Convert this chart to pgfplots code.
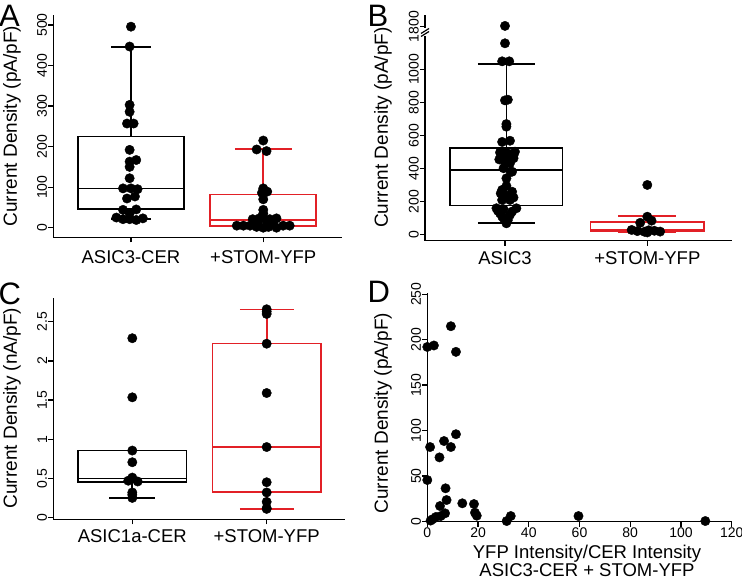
\documentclass[border=0pt]{standalone}
\usepackage{pgfplots}
\pgfplotsset{compat=1.18}
\usepgfplotslibrary{statistics}
\usepackage{fontspec}
\setmainfont{Liberation Sans}
\definecolor{boxred}{RGB}{226,32,38}
\pgfplotsset{
  panel/.style={
    scale only axis, anchor=south west, clip=false,
    axis x line*=bottom, axis y line*=left,
    axis line style={line width=1.5pt, black},
    tick align=outside, major tick length=5pt,
    every tick/.style={black, line width=1.3pt},
    tick label style={font=\fontsize{14}{15}\selectfont},
    yticklabel style={rotate=90, anchor=south, inner sep=1pt},
    xticklabel style={anchor=north, inner sep=0pt},
    /pgf/number format/assume math mode=true,
    boxplot/draw direction=y,
  },
  cat/.style={xticklabel style={font=\fontsize{18.5}{19}\selectfont, yshift=#1}},
  dots/.style={only marks, mark=*, mark size=4.7pt, black, mark options={fill=black, draw=black}},
  blk/.style={black, line width=1.7pt},
  rd/.style={boxred, line width=1.7pt},
}
\begin{document}
\begin{tikzpicture}[x=1pt,y=1pt]
\useasboundingbox (0,0) rectangle (742,579);

% ---------------- Panel A ----------------
\begin{axis}[panel, cat=-8pt, at={(53.3pt,341.7pt)}, width=288.4pt, height=222.3pt,
  xmin=-0.587, xmax=1.593, ymin=-23.7, ymax=524.8,
  xtick={0,1}, xticklabels={ASIC3-CER,+STOM-YFP}, ytick={0,100,200,300,400,500}]
\addplot[blk, boxplot prepared={draw position=0, lower whisker=21, lower quartile=46, median=97, upper quartile=225, upper whisker=446, box extend=0.80, whisker extend=0.30}] coordinates {};
\addplot[rd, boxplot prepared={draw position=1, lower whisker=4, lower quartile=5, median=19, upper quartile=82, upper whisker=194, box extend=0.80, whisker extend=0.43}] coordinates {};
\addplot[dots] coordinates {
(0,496) (-0.01,447) (-0.01,303) (-0.01,286) (-0.03,257) (0.02,257) (-0.01,192)
(-0.01,163) (0.04,167) (-0.01,150) (-0.01,122) (-0.06,97) (0.0,97) (0.05,95)
(-0.03,72) (0.03,77) (-0.06,44) (0.04,45) (-0.01,35) (-0.11,25) (-0.01,21)
(0.09,23) (-0.06,21) (0.04,19)};
\addplot[dots] coordinates {
(1.0,215) (0.95,193) (1.025,189) (1.0,97) (1.03,89) (0.99,86) (1.0,70) (1.0,44)
(1.0,35) (0.92,21) (0.97,23) (1.05,21) (1.10,23) (0.96,15) (1.025,17) (1.075,12)
(0.80,5) (0.85,5) (0.90,5) (0.95,2) (1.0,0) (1.04,2) (1.10,0) (1.15,5) (1.20,5)};
\end{axis}

% ---------------- Panel B ----------------
% the top point (about 1850 pA/pF) lies above the axis break; it is plotted at 1262 on the lower scale, where the 1800 tick sits at 1258
\begin{axis}[panel, cat=-6pt, at={(425pt,338.3pt)}, width=306.7pt, height=225.7pt,
  xmin=-0.562, xmax=1.593, ymin=-36, ymax=1328,
  xtick={0,1}, xticklabels={ASIC3,+STOM-YFP},
  ytick={0,200,400,600,800,1000,1258}, yticklabels={0,200,400,600,800,1000,1800}]
\addplot[blk, boxplot prepared={draw position=0.01, lower whisker=73, lower quartile=176, median=392, upper quartile=523, upper whisker=1030, box extend=0.79, whisker extend=0.40}] coordinates {};
\addplot[rd, boxplot prepared={draw position=1, lower whisker=13, lower quartile=23, median=31, upper quartile=75, upper whisker=113, box extend=0.80, whisker extend=0.41}] coordinates {};
\addplot[dots] coordinates {
(0,1262) (0,1157) (-0.02,1048) (0.03,1048) (0,812) (0.02,816) (0.01,669) (0.01,653)
(-0.02,561) (0.035,568) (-0.01,502) (0.07,502) (-0.035,497) (0.02,492) (0.06,480)
(0.01,472) (0.06,462) (-0.04,455) (0,442) (0.035,432) (-0.01,402) (0.05,381)
(0.04,380) (0.01,341) (0.01,295) (-0.02,271) (0.05,260) (-0.03,250) (0,240)
(0.06,225) (-0.02,210) (0.035,210) (-0.06,160) (-0.01,154) (0.08,160) (-0.05,145)
(0.05,140) (-0.035,130) (0.035,120) (-0.02,110) (-0.01,100) (0.02,89) (0.01,69)};
\addplot[dots] coordinates {
(1.0,301) (1.0,109) (1.03,85) (0.95,72) (0.89,29) (0.93,22) (0.98,18) (1.01,27)
(1.05,24) (1.09,19) (1.0,14)};
\end{axis}
% axis break on panel B
\fill[white] (419,542.5) rectangle (431,550.5);
\draw[line width=1.2pt] (421,542.5) -- (429,547.5);
\draw[line width=1.2pt] (421,545.5) -- (429,550.5);

% ---------------- Panel C ----------------
\begin{axis}[panel, cat=-5pt, at={(53.3pt,59.7pt)}, width=291.7pt, height=221pt,
  xmin=-0.588, xmax=1.583, ymin=-0.023, ymax=2.80,
  xtick={0,1}, xticklabels={ASIC1a-CER,+STOM-YFP},
  ytick={0,0.5,1,1.5,2,2.5}, yticklabels={0,0.5,1,1.5,2,2.5}]
\addplot[blk, boxplot prepared={draw position=0, lower whisker=0.247, lower quartile=0.45, median=0.50, upper quartile=0.855, upper whisker=0.855, box extend=0.806, whisker extend=0.34}] coordinates {};
\addplot[rd, boxplot prepared={draw position=1, lower whisker=0.106, lower quartile=0.323, median=0.90, upper quartile=2.224, upper whisker=2.657, box extend=0.806, whisker extend=0.40}] coordinates {};
\addplot[dots] coordinates {
(0,2.29) (0,1.535) (0,0.855) (0,0.706) (0,0.51) (-0.03,0.47) (0.04,0.46)
(0,0.32) (0,0.29) (0,0.25)};
\addplot[dots] coordinates {
(1,2.66) (1,2.63) (1,2.60) (1,2.22) (1,1.59) (1,0.90) (1,0.45) (1,0.32)
(1,0.20) (1,0.11) (1,0.12)};
\end{axis}

% ---------------- Panel D ----------------
\begin{axis}[panel, at={(427.3pt,57.5pt)}, width=304.4pt, height=228.2pt,
  xmin=0, xmax=120, ymin=0, ymax=251,
  xtick={0,20,...,120}, ytick={0,50,...,250},
  xticklabel style={yshift=-1pt}]
\addplot[dots] coordinates {
(0,192) (2.6,193.6) (9.3,214.8) (11.3,186.6) (1.1,81.9) (6.6,88.5) (9.3,81.9)
(11.3,96) (4.8,70.5) (0,45.6) (7.2,36.5) (7.6,23.6) (5.0,17) (13.8,20) (18.4,19.2)
(18.8,9.7) (19.5,6.4) (7.0,9) (5.3,6) (3.4,5) (2.1,2.5) (1.3,1) (31.3,0.5)
(32.9,6) (59.6,6) (109.6,0.5)};
\end{axis}

% ---------------- labels ----------------
\begin{scope}[every node/.style={inner sep=0pt}]
\node[rotate=90, font=\fontsize{19}{20}\selectfont] at (12,453) {Current Density (pA/pF)};
\node[rotate=90, font=\fontsize{19}{20}\selectfont] at (383,451.5) {Current Density (pA/pF)};
\node[rotate=90, font=\fontsize{19}{20}\selectfont] at (12,171) {Current Density (nA/pF)};
\node[rotate=90, font=\fontsize{19}{20}\selectfont] at (383,166) {Current Density (pA/pF)};
\node[anchor=base, font=\fontsize{18.5}{19}\selectfont] at (587,20.6) {YFP Intensity/CER Intensity};
\node[anchor=base, font=\fontsize{18.5}{19}\selectfont] at (587,2.4) {ASIC3-CER + STOM-YFP};
\node[anchor=base west, font=\fontsize{31}{31}\selectfont] at (-1,552) {A};
\node[anchor=base west, font=\fontsize{31}{31}\selectfont] at (367.5,552) {B};
\node[anchor=base west, font=\fontsize{31}{31}\selectfont] at (-1.5,274) {C};
\node[anchor=base west, font=\fontsize{31}{31}\selectfont] at (367.5,276) {D};
\end{scope}
\end{tikzpicture}
\end{document}
